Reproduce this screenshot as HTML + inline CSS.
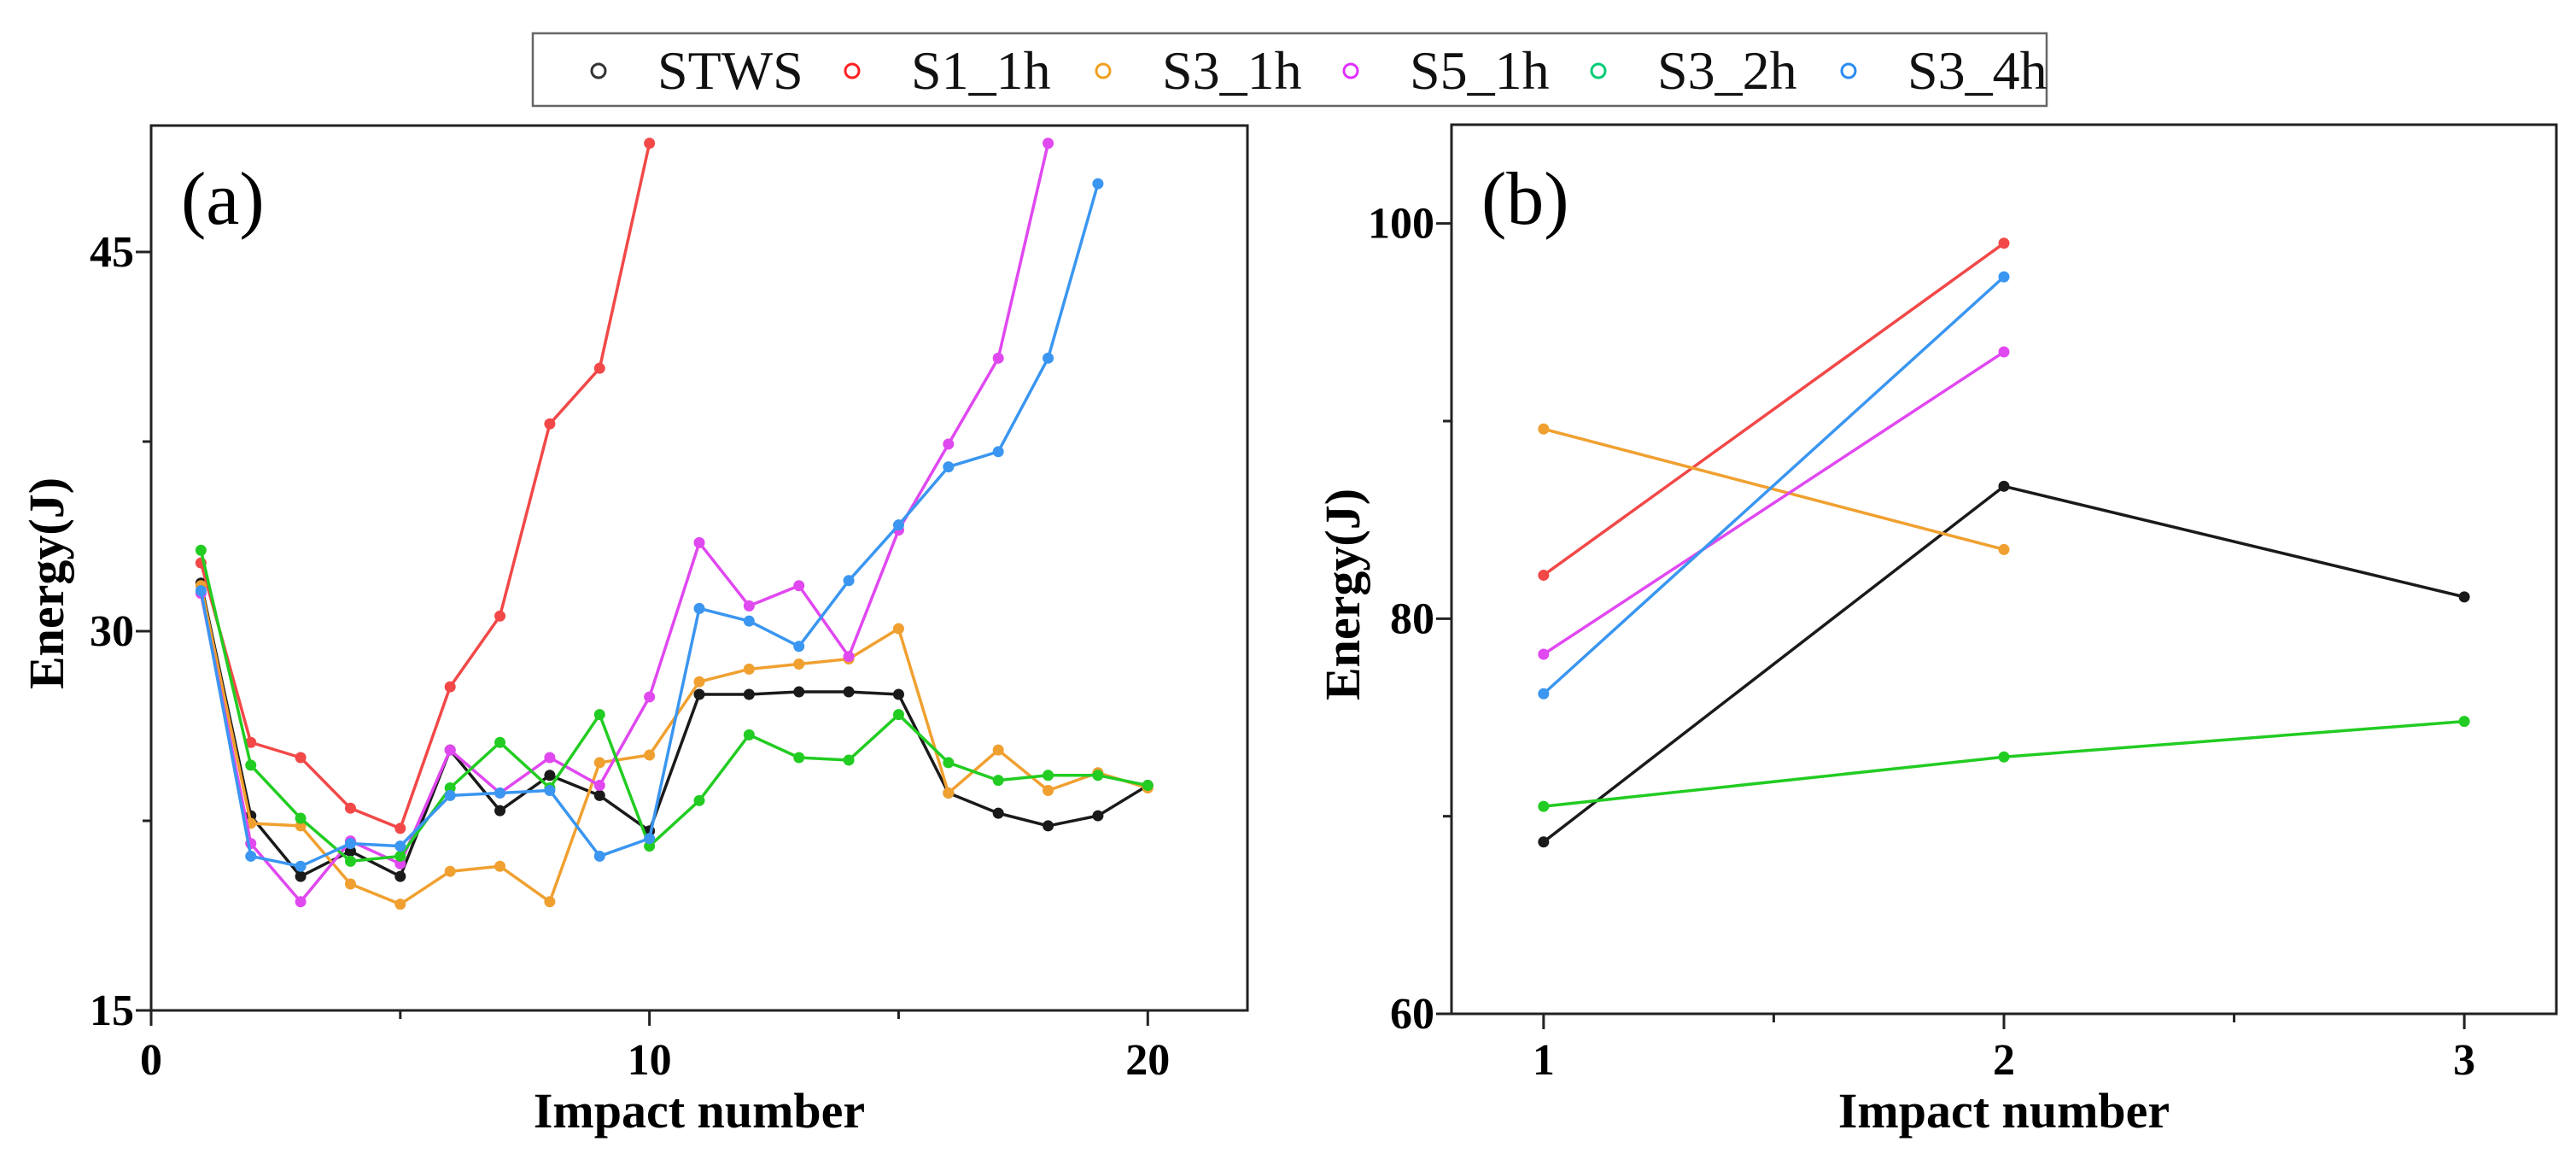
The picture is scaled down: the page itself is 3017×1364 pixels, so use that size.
<!DOCTYPE html>
<html><head><meta charset="utf-8"><style>
html,body{margin:0;padding:0;background:#fff;}
svg{display:block;font-family:"Liberation Serif",serif;}
.tk{font-size:52px;font-weight:bold;}
.at{font-size:58px;font-weight:bold;}
</style></head><body>
<svg id="chart" width="3017" height="1364" viewBox="0 0 3017 1364">
<g id="legend"></g>
<g id="pa"></g>
<g id="pb"></g>
</svg>
<script>
const seriesNames=["STWS","S1_1h","S3_1h","S5_1h","S3_2h","S3_4h"];
const seriesColors=["#1a1a1a","#f24848","#f0a030","#e048f0","#22cc22","#3a96f0"];
const legendColors=["#333","#ff2222","#f0a020","#e030ff","#00cc77","#2a8cf0"];
const aStws=[31.9,22.7,20.3,21.3,20.3,25.3,22.9,24.3,23.5,22.1,27.5,27.5,27.6,27.6,27.5,23.6,22.8,22.3,22.7,23.9];
const aS1=[32.7,25.6,25.0,23.0,22.2,27.8,30.6,38.2,40.4,49.3];
const aS31=[31.8,22.4,22.3,20.0,19.2,20.5,20.7,19.3,24.8,25.1,28.0,28.5,28.7,28.9,30.1,23.6,25.3,23.7,24.4,23.8];
const aS5=[31.5,21.6,19.3,21.7,20.8,25.3,23.6,25.0,23.9,27.4,33.5,31.0,31.8,29.0,34.0,37.4,40.8,49.3];
const aS32=[33.2,24.7,22.6,20.9,21.1,23.8,25.6,23.8,26.7,21.5,23.3,25.9,25.0,24.9,26.7,24.8,24.1,24.3,24.3,23.9];
const aS34=[31.6,21.1,20.7,21.6,21.5,23.5,23.6,23.7,21.1,21.8,30.9,30.4,29.4,32.0,34.2,36.5,37.1,40.8,47.7];
const bStws=[68.7,86.7,81.1];
const bS1=[82.2,99.0];
const bS31=[89.6,83.5];
const bS5=[78.2,93.5];
const bS32=[70.5,73.0,74.8];
const bS34=[76.2,97.3];
const aXTicks=[0,10,20];
const aYTicks=[15,30,45];
const bXTicks=[1,2,3];
const bYTicks=[60,80,100];

const NS="http://www.w3.org/2000/svg";
function mk(tag,attrs,parent){const e=document.createElementNS(NS,tag);for(const k in attrs)e.setAttribute(k,attrs[k]);parent.appendChild(e);return e;}

function panel(g,name,L,T,R,B,x0,x1,y0,y1,xt,xm,yt,ym,data,label,lblX,ytX,ytY){
  const sx=v=>L+(v-x0)/(x1-x0)*(R-L);
  const sy=v=>B-(v-y0)/(y1-y0)*(B-T);
  const fr=mk('rect',{x:L,y:T,width:R-L,height:B-T,fill:'none',stroke:'#222','stroke-width':3},g);
  
  
  xt.forEach(v=>{
    const t=mk('line',{x1:sx(v),x2:sx(v),y1:B,y2:B+18,stroke:'#222','stroke-width':3},g);
    
    
    const tx=mk('text',{x:sx(v),y:1258,'text-anchor':'middle',class:'tk'},g);
    tx.textContent=v;
    
    
  });
  xm.forEach(v=>{const t=mk('line',{x1:sx(v),x2:sx(v),y1:B,y2:B+10,stroke:'#222','stroke-width':3},g);
    
    });
  yt.forEach(v=>{
    const t=mk('line',{x1:L-18,x2:L,y1:sy(v),y2:sy(v),stroke:'#222','stroke-width':3},g);
    
    
    const tx=mk('text',{x:L-20,y:sy(v)+17,'text-anchor':'end',class:'tk'},g);
    tx.textContent=v;
    
    
  });
  ym.forEach(v=>{const t=mk('line',{x1:L-10,x2:L,y1:sy(v),y2:sy(v),stroke:'#222','stroke-width':3},g);
    
    });
  const xtitle=mk('text',{x:(L+R)/2,y:1320,'text-anchor':'middle',class:'at'},g);
  xtitle.textContent='Impact number';
  
  
  const ytitle=mk('text',{x:0,y:0,'text-anchor':'middle',class:'at',transform:`translate(${ytX},${ytY}) rotate(-90)`},g);
  ytitle.textContent='Energy(J)';
  
  
  const pl=mk('text',{x:lblX,y:262,style:'font-size:88px'},g);
  pl.textContent=label;
  
  
  data.forEach((arr,i)=>{
    const pts=arr.map((v,j)=>sx(j+1)+','+sy(v)).join(' ');
    const ln=mk('polyline',{points:pts,fill:'none',stroke:seriesColors[i],'stroke-width':3.5,'stroke-linejoin':'round'},g);
    
    
    arr.forEach((v,j)=>{
      const c=mk('circle',{cx:sx(j+1),cy:sy(v),r:6.5,fill:seriesColors[i]},g);
      
      
    });
  });
}
panel(document.getElementById('pa'),'panel-a',177,147,1461,1183,0,22,15,50,aXTicks,[5,15],aYTicks,[22.5,37.5],
  [aStws,aS1,aS31,aS5,aS32,aS34],'(a)',212,74,683);
panel(document.getElementById('pb'),'panel-b',1700,146,2994,1187,0.8,3.2,60,105,bXTicks,[1.5,2.5],bYTicks,[70,90],
  [bStws,bS1,bS31,bS5,bS32,bS34],'(b)',1735,1592,696);

const lg=document.getElementById('legend');
const box=mk('rect',{x:624,y:39,width:1773,height:85,fill:'#fff',stroke:'#666','stroke-width':2.5},lg);


const cxs=[701,998,1292,1582,1872,2165];
seriesNames.forEach((n,i)=>{
  const c=mk('circle',{cx:cxs[i],cy:83,r:8,fill:'none',stroke:legendColors[i],'stroke-width':3},lg);
  
  
  const t=mk('text',{x:cxs[i]+69,y:104,style:'font-size:64px',fill:'#111'},lg);
  t.textContent=n;
  
  
});
</script>
</body></html>
